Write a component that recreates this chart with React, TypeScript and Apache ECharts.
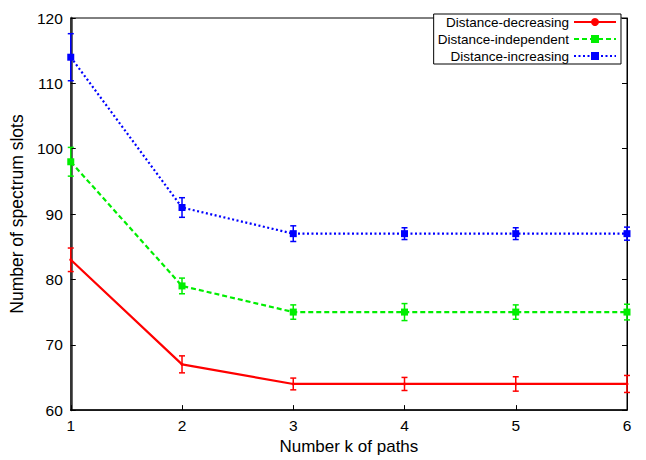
import React, { useEffect, useRef } from "react";
import * as echarts from "echarts";

const kValues = [1, 2, 3, 4, 5, 6];
const decreasing = [83, 67, 64, 64, 64, 64];
const decreasingErr = [1.8, 1.3, 0.9, 1.0, 1.1, 1.3];
const independent = [98, 79, 75, 75, 75, 75];
const independentErr = [2.2, 1.2, 1.1, 1.3, 1.1, 1.2];
const increasing = [114, 91, 87, 87, 87, 87];
const increasingErr = [3.6, 1.5, 1.2, 0.9, 0.9, 1.0];
const seriesNames = ["Distance-decreasing", "Distance-independent", "Distance-increasing"];
const colors = ["#ff0000", "#00ee00", "#0000ff"];

const FONT = "Liberation Sans, Arial, Helvetica, sans-serif";

function errorSeries(values: number[], errs: number[], color: string) {
  return {
    type: "custom",
    silent: true,
    z: 3,
    data: kValues.map((k, i) => [k, values[i] - errs[i], values[i] + errs[i]]),
    renderItem: (params: any, api: any) => {
      const x = api.value(0);
      const lo = api.coord([x, api.value(1)]);
      const hi = api.coord([x, api.value(2)]);
      const w = 3;
      const style = { stroke: color, lineWidth: 1.5 };
      return {
        type: "group",
        children: [
          { type: "line", shape: { x1: lo[0], y1: lo[1], x2: hi[0], y2: hi[1] }, style },
          { type: "line", shape: { x1: lo[0] - w, y1: lo[1], x2: lo[0] + w, y2: lo[1] }, style },
          { type: "line", shape: { x1: hi[0] - w, y1: hi[1], x2: hi[0] + w, y2: hi[1] }, style },
        ],
      };
    },
  };
}

export default function App() {
  const ref = useRef<HTMLDivElement>(null);
  useEffect(() => {
    if (!ref.current) return;
    const chart = echarts.init(ref.current, undefined, { renderer: "svg" });
    const lineSeries = (name: string, values: number[], color: string, type: any, symbol: string, size: number) => ({
      name,
      type: "line",
      z: 4,
      data: kValues.map((k, i) => [k, values[i]]),
      symbol,
      symbolSize: size,
      showSymbol: true,
      itemStyle: { color },
      lineStyle: { color, width: 2.2, type },
    });
    chart.setOption({
      animation: false,
      backgroundColor: "#ffffff",
      textStyle: { fontFamily: FONT },
      grid: {
        left: 65,
        right: 19,
        top: 18,
        bottom: 45,
        show: true,
        borderColor: "#000",
        borderWidth: 1,
        backgroundColor: "transparent",
      },
      legend: {
        data: seriesNames,
        orient: "vertical",
        align: "right",
        right: 25,
        top: 14,
        itemWidth: 42,
        itemHeight: 10,
        itemGap: 3,
        padding: [1, 4, 1, 4],
        borderColor: "#000",
        borderWidth: 1,
        backgroundColor: "#fff",
        textStyle: { fontFamily: FONT, fontSize: 13.5, color: "#000", lineHeight: 13 },
      },
      xAxis: [
        {
          type: "value",
          min: 1,
          max: 6,
          interval: 1,
          name: "Number k of paths",
          nameLocation: "middle",
          nameGap: 26,
          nameTextStyle: { fontFamily: FONT, fontSize: 17, color: "#000" },
          axisLine: { show: true, lineStyle: { color: "#000", width: 1.5 } },
          axisTick: { show: true, inside: true, length: 5, lineStyle: { color: "#000" } },
          axisLabel: { fontFamily: FONT, fontSize: 15.5, color: "#000", margin: 7 },
          splitLine: { show: false },
        },
      ],
      yAxis: [
        {
          type: "value",
          min: 60,
          max: 120,
          interval: 10,
          name: "Number of spectrum slots",
          nameLocation: "middle",
          nameGap: 37,
          nameTextStyle: { fontFamily: FONT, fontSize: 17.5, color: "#000" },
          axisLine: { show: true, lineStyle: { color: "#333", width: 2.5 } },
          axisTick: { show: true, inside: true, length: 5, lineStyle: { color: "#000" } },
          axisLabel: { fontFamily: FONT, fontSize: 15.5, color: "#000", margin: 8 },
          splitLine: { show: false },
        },
        {
          type: "value",
          min: 60,
          max: 120,
          interval: 10,
          position: "right",
          axisLine: { show: true, lineStyle: { color: "#000", width: 1 } },
          axisTick: { show: true, inside: true, length: 5, lineStyle: { color: "#000" } },
          axisLabel: { show: false },
          splitLine: { show: false },
        },
      ],
      series: [
        errorSeries(decreasing, decreasingErr, colors[0]),
        errorSeries(independent, independentErr, colors[1]),
        errorSeries(increasing, increasingErr, colors[2]),
        lineSeries(seriesNames[0], decreasing, colors[0], "solid", "circle", 3),
        lineSeries(seriesNames[1], independent, colors[1], [5, 3], "rect", 7),
        lineSeries(seriesNames[2], increasing, colors[2], [2, 2.5], "rect", 7),
      ],
    });
    return () => chart.dispose();
  }, []);
  return (
    <div
      ref={ref}
      style={{ position: "fixed", left: 0, top: 0, width: 646, height: 460 }}
    />
  );
}
